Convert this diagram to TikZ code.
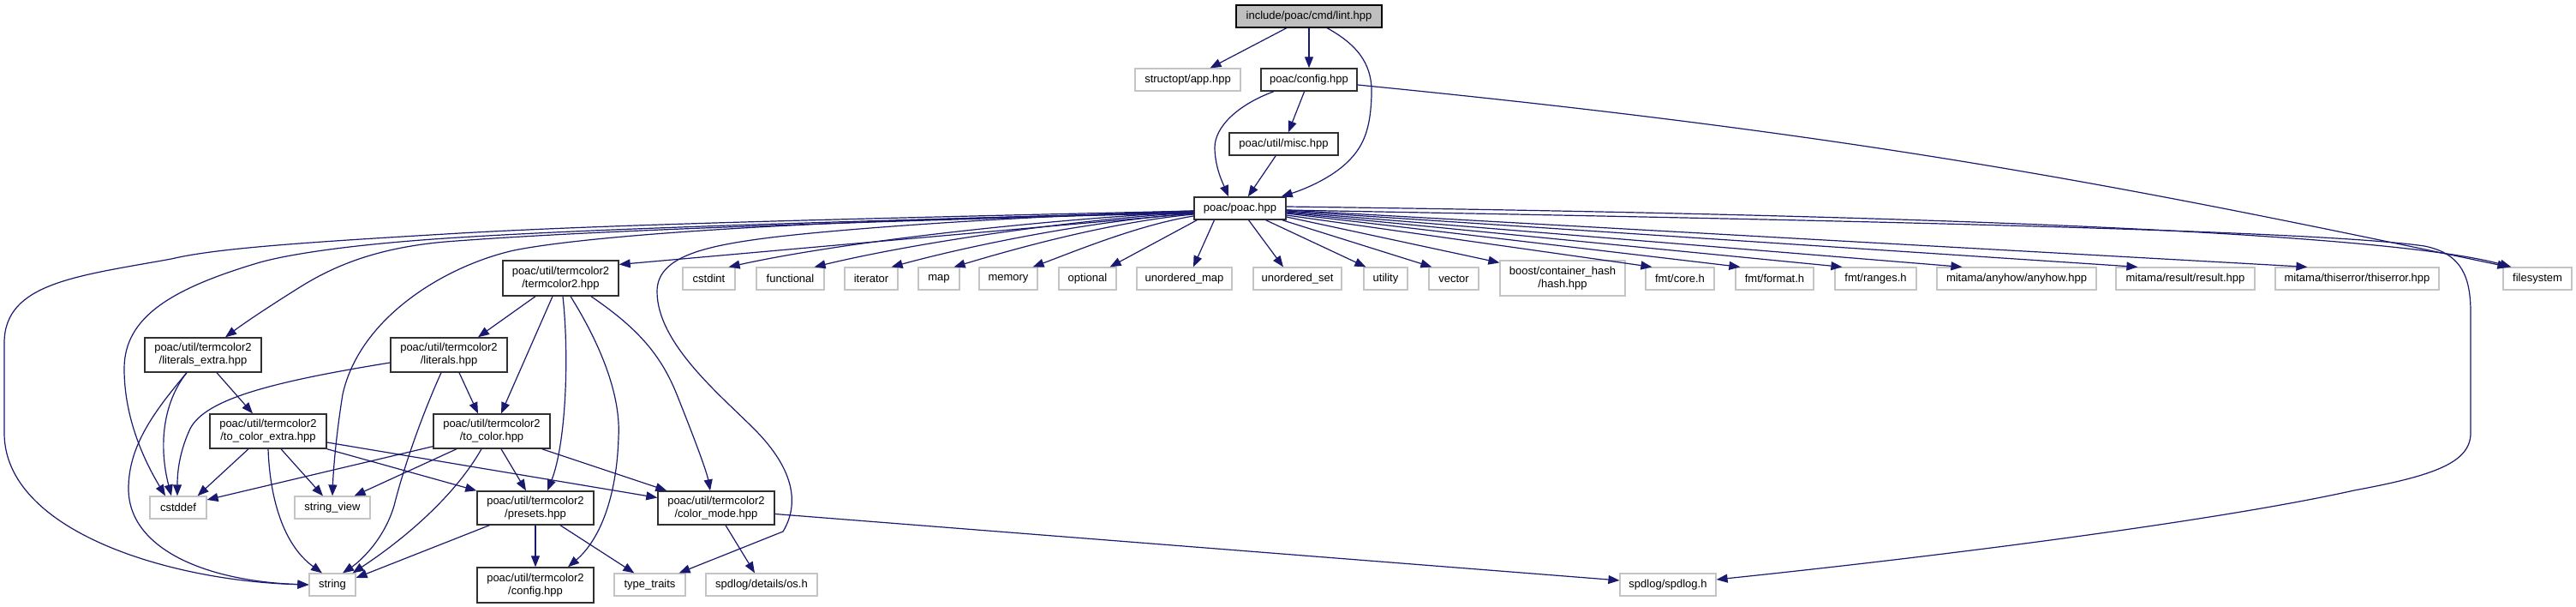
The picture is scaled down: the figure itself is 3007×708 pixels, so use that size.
\documentclass[tikz,border=0pt]{standalone}
\usepackage{fontspec}
\setmainfont{Liberation Sans}
\usetikzlibrary{arrows.meta,calc}
\definecolor{edgeblue}{HTML}{191970}
\definecolor{gray75}{HTML}{BFBFBF}
\definecolor{extgray}{HTML}{C4C4C4}
\definecolor{locgray}{HTML}{303030}
\tikzset{
  box/.style={rectangle, inner sep=0pt, align=center, text=black, fill=white,
    font=\fontsize{13}{15}\selectfont},
  wh/.style 2 args={minimum width=#1pt, minimum height=#2pt},
  mainbox/.style={box, fill=gray75, draw=black, line width=1.3pt},
  locbox/.style={box, draw=locgray, line width=1.4pt},
  extbox/.style={box, draw=extgray, line width=1.2pt},
  edge/.style={draw=edgeblue, line width=1.2pt, -{Triangle[length=13pt,width=10pt]}}
}
\begin{document}
\begin{tikzpicture}[x=1pt,y=-1pt]
\useasboundingbox (0,0) rectangle (3007,708);
\fill[white] (0,0) rectangle (3007,708);
% nodes
\node[mainbox,wh={170}{26}] (lint) at (1528,19) {include/poac/cmd/lint.hpp};
\node[extbox,wh={123}{26}] (app) at (1386.5,93) {structopt/app.hpp};
\node[locbox,wh={112}{26}] (config) at (1528,93) {poac/config.hpp};
\node[locbox,wh={127}{26}] (misc) at (1498.5,168) {poac/util/misc.hpp};
\node[locbox,wh={107}{26}] (poac) at (1447.5,243) {poac/poac.hpp};
\node[locbox,wh={135}{41}] (tc2) at (654.5,324.5) {poac/util/termcolor2\\/termcolor2.hpp};
\node[extbox,wh={61}{26}] (cstdint) at (827.5,325) {cstdint};
\node[extbox,wh={79}{26}] (functional) at (922.5,325) {functional};
\node[extbox,wh={62}{26}] (iterator) at (1017,325) {iterator};
\node[extbox,wh={48}{26}] (map) at (1096,325) {map};
\node[extbox,wh={68}{26}] (memory) at (1177,325) {memory};
\node[extbox,wh={67}{26}] (optional) at (1269.5,325) {optional};
\node[extbox,wh={111}{26}] (umap) at (1382.5,325) {unordered\_map};
\node[extbox,wh={103}{26}] (uset) at (1514.5,325) {unordered\_set};
\node[extbox,wh={51}{26}] (utility) at (1617.5,325) {utility};
\node[extbox,wh={58}{26}] (vector) at (1697,325) {vector};
\node[extbox,wh={146}{41}] (boost) at (1824,324.5) {boost/container\_hash\\/hash.hpp};
\node[extbox,wh={80}{26}] (fmtcore) at (1961,325) {fmt/core.h};
\node[extbox,wh={91}{26}] (fmtformat) at (2071.5,325) {fmt/format.h};
\node[extbox,wh={95}{26}] (fmtranges) at (2189.5,325) {fmt/ranges.h};
\node[extbox,wh={186}{26}] (anyhow) at (2354,325) {mitama/anyhow/anyhow.hpp};
\node[extbox,wh={162}{26}] (result) at (2551,325) {mitama/result/result.hpp};
\node[extbox,wh={191}{26}] (thiserror) at (2751.5,325) {mitama/thiserror/thiserror.hpp};
\node[extbox,wh={80}{26}] (filesystem) at (2962,325) {filesystem};
\node[locbox,wh={136}{40}] (litext) at (237,414) {poac/util/termcolor2\\/literals\_extra.hpp};
\node[locbox,wh={136}{40}] (literals) at (524,414) {poac/util/termcolor2\\/literals.hpp};
\node[locbox,wh={136}{40}] (tocolext) at (313,503) {poac/util/termcolor2\\/to\_color\_extra.hpp};
\node[locbox,wh={136}{40}] (tocolor) at (574,503) {poac/util/termcolor2\\/to\_color.hpp};
\node[extbox,wh={66}{26}] (cstddef) at (208,592) {cstddef};
\node[extbox,wh={88}{26}] (strview) at (388,592) {string\_view};
\node[locbox,wh={136}{39}] (presets) at (625,592.5) {poac/util/termcolor2\\/presets.hpp};
\node[locbox,wh={136}{39}] (colormode) at (836,592.5) {poac/util/termcolor2\\/color\_mode.hpp};
\node[extbox,wh={54}{26}] (string) at (388,682) {string};
\node[locbox,wh={136}{41}] (tcconfig) at (625,682.5) {poac/util/termcolor2\\/config.hpp};
\node[extbox,wh={83}{26}] (typetraits) at (758.5,682) {type\_traits};
\node[extbox,wh={130}{26}] (os) at (889,682) {spdlog/details/os.h};
\node[extbox,wh={112}{26}] (spdlog) at (1947,682) {spdlog/spdlog.h};
% edges from lint
\draw[edge] (lint) -- (app);
\draw[edge] (lint) -- (config);
\draw[edge] ($(lint.south)+(21,0)$) .. controls (1590,55) and (1602,80) .. (1601,110) .. controls (1600,150) and (1592,170) .. (1574,188) .. controls (1555,207) and (1525,220) .. ($(poac.north east)+(-6,0)$);
% edges from config
\draw[edge] ($(config.south)+(-41,0)$) .. controls (1445,122) and (1418,148) .. (1418,172) .. controls (1418,195) and (1428,215) .. ($(poac.north)+(-13.5,0)$);
\draw[edge] (config) -- (misc);
\draw[edge] ($(config.east)+(0,6)$) .. controls (2184,158) and (2479,217) .. ($(filesystem.north west)+(7,0)$);
\draw[edge] (misc) -- (poac);
% edges from poac, right side
\draw[edge] ($(poac.east)+(0,-2)$) .. controls (2200,250) and (2780,270) .. ($(filesystem.north west)+(10,0)$);
\draw[edge] ($(poac.east)+(0,2)$) .. controls (2100,256) and (2700,268) .. (2830,287) .. controls (2875,296) and (2884,325) .. (2884,365) -- (2884,505) .. controls (2884,540) and (2840,555) .. (2748,572) .. controls (2600,605) and (2300,645) .. ($(spdlog.east)+(0,-6)$);
\draw[edge] ($(poac.south)+(10,0)$) -- ($(uset.north)+(-16.5,0)$);
\draw[edge] ($(poac.south)+(30,0)$) -- ($(utility.north west)+(3,0)$);
\draw[edge] ($(poac.south east)+(-5,0)$) -- ($(vector.north west)+(4,0)$);
\draw[edge] ($(poac.east)+(0,10)$) -- ($(boost.north west)+(0,3)$);
\draw[edge] ($(poac.east)+(0,8)$) -- ($(fmtcore.north west)+(8,0)$);
\draw[edge] ($(poac.east)+(0,6)$) -- ($(fmtformat.north west)+(6,0)$);
\draw[edge] ($(poac.east)+(0,5)$) -- ($(fmtranges.north west)+(9,0)$);
\draw[edge] ($(poac.east)+(0,4)$) -- ($(anyhow.north west)+(30,0)$);
\draw[edge] ($(poac.east)+(0,3)$) -- ($(result.north west)+(26,0)$);
\draw[edge] ($(poac.east)+(0,2)$) -- ($(thiserror.north west)+(38,0)$);
% edges from poac, left side
\draw[edge] ($(poac.west)+(0,4)$) .. controls (1204,257) and (980,283) .. ($(cstdint.north east)+(-8,0)$);
\draw[edge] ($(poac.west)+(0,5)$) .. controls (1240,257) and (1060,285) .. ($(functional.north east)+(-12,0)$);
\draw[edge] ($(poac.west)+(0,6)$) .. controls (1270,258) and (1130,287) .. ($(iterator.north east)+(-8,0)$);
\draw[edge] ($(poac.west)+(0,7)$) .. controls (1296,259) and (1185,290) .. ($(map.north east)+(-7,0)$);
\draw[edge] ($(poac.west)+(0,9)$) .. controls (1330,262) and (1255,293) .. ($(memory.north east)+(-6,0)$);
\draw[edge] ($(poac.south west)+(4,0)$) -- ($(optional.north east)+(-8,0)$);
\draw[edge] ($(poac.south)+(-30,0)$) -- ($(umap.north)+(10.5,0)$);
\draw[edge] ($(poac.west)+(0,6)$) -- ($(tc2.east)+(0,-16)$);
\draw[edge] ($(poac.west)+(0,3)$) .. controls (1000,255) and (700,262) .. (520,273) .. controls (350,283) and (250,290) .. (200,302) .. controls (90,322) and (5,330) .. (5,400) -- (5,505) .. controls (5,620) and (200,678) .. (string.west);
\draw[edge] ($(poac.west)+(0,4)$) .. controls (1000,258) and (700,266) .. (520,278) .. controls (400,286) and (330,298) .. (300,307) .. controls (200,337) and (145,370) .. (145,430) .. controls (145,490) and (170,540) .. ($(cstddef.north)+(-15,0)$);
\draw[edge] ($(poac.west)+(0,5)$) .. controls (1000,259) and (700,268) .. (520,282) .. controls (440,289) and (390,310) .. (350,335) .. controls (310,360) and (285,377) .. ($(litext.north)+(26,0)$);
\draw[edge] ($(poac.west)+(0,6)$) .. controls (1000,254) and (700,272) .. (600,292) .. controls (520,310) and (420,370) .. (400,460) .. controls (392,510) and (389,550) .. (strview.north);
\draw[edge] ($(poac.west)+(0,3)$) .. controls (1200,252) and (1000,265) .. (900,277) .. controls (820,287) and (767,300) .. (767,340) .. controls (767,400) and (840,460) .. (880,500) .. controls (930,550) and (932,590) .. (914,620) -- ($(typetraits.north east)+(-8,0)$);
% termcolor2
\draw[edge] ($(tc2.south)+(-29.5,0)$) -- ($(literals.north)+(34,0)$);
\draw[edge] ($(tc2.south)+(-9.5,0)$) -- ($(tocolor.north)+(11,0)$);
\draw[edge] ($(tc2.south)+(2.5,0)$) .. controls (665,420) and (660,520) .. ($(presets.north)+(14,0)$);
\draw[edge] ($(tc2.south)+(11.5,0)$) .. controls (700,400) and (725,460) .. (722,510) .. controls (720,580) and (700,630) .. ($(tcconfig.north)+(38,0)$);
\draw[edge] ($(tc2.south)+(35.5,0)$) .. controls (740,380) and (770,410) .. (790,460) .. controls (810,510) and (825,550) .. ($(colormode.north)+(-7,0)$);
% literals_extra
\draw[edge] ($(litext.south)+(-19,0)$) .. controls (190,470) and (185,520) .. ($(cstddef.north)+(-8,0)$);
\draw[edge] ($(litext.south)+(-19,0)$) .. controls (180,480) and (150,520) .. (150,570) .. controls (150,640) and (240,678) .. (string.west);
\draw[edge] ($(litext.south)+(16,0)$) -- ($(tocolext.north)+(-18,0)$);
% literals
\draw[edge] ($(literals.west)+(0,9)$) .. controls (320,445) and (240,465) .. (222,500) .. controls (208,530) and (207,555) .. ($(cstddef.north)+(-1,0)$);
\draw[edge] ($(literals.south)+(-9,0)$) .. controls (490,490) and (470,550) .. (460,590) .. controls (448,630) and (420,655) .. ($(string.north)+(12,0)$);
\draw[edge] ($(literals.south)+(12,0)$) -- ($(tocolor.north)+(-16,0)$);
% to_color_extra
\draw[edge] ($(tocolext.south)+(-23,0)$) -- ($(cstddef.north east)+(-11,0)$);
\draw[edge] (tocolext.south) .. controls (315,580) and (330,635) .. ($(string.north)+(-12,0)$);
\draw[edge] ($(tocolext.south)+(15,0)$) -- ($(strview.north)+(-11,0)$);
\draw[edge] (tocolext.south east) -- (presets.north west);
\draw[edge] ($(tocolext.east)+(0,13)$) -- ($(colormode.west)+(0,-12)$);
% to_color
\draw[edge] ($(tocolor.south west)+(0,-3)$) -- ($(cstddef.east)+(0,-9)$);
\draw[edge] ($(tocolor.south)+(-41,0)$) -- ($(strview.north east)+(-19,0)$);
\draw[edge] ($(tocolor.south)+(-12,0)$) .. controls (530,580) and (470,630) .. ($(string.north east)+(-4,0)$);
\draw[edge] ($(tocolor.south)+(11,0)$) -- ($(presets.north)+(-11,0)$);
\draw[edge] ($(tocolor.south east)+(-10,0)$) -- ($(colormode.north west)+(11,0)$);
% presets
\draw[edge] ($(presets.south west)+(15,0)$) -- ($(string.east)+(0,-8)$);
\draw[edge] (presets) -- (tcconfig);
\draw[edge] ($(presets.south)+(29,0)$) -- ($(typetraits.north west)+(24,0)$);
% color_mode
\draw[edge] ($(colormode.south)+(11,0)$) -- ($(os.north)+(-8,0)$);
\draw[edge] ($(colormode.east)+(0,7)$) -- ($(spdlog.west)+(0,-5)$);
\end{tikzpicture}
\end{document}
